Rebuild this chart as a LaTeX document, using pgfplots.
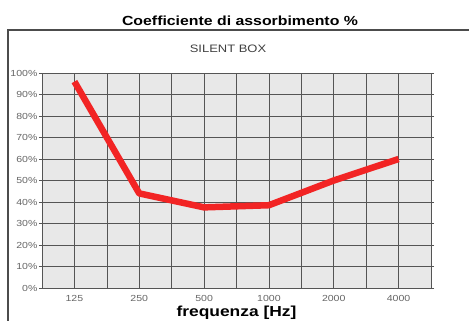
\documentclass[border=0pt]{standalone}
\usepackage{pgfplots}
\pgfplotsset{compat=1.18}
\usepackage{fontspec}
\setmainfont{Liberation Sans}
\newfontfamily\wide[FakeStretch=1.2]{Liberation Sans}
\definecolor{linered}{HTML}{F22424}
\definecolor{gridgray}{HTML}{555555}
\definecolor{bggray}{HTML}{E8E8E8}
\begin{document}
\begin{tikzpicture}
\useasboundingbox (0pt,0pt) rectangle (469pt,-321pt);
\fill[white] (0pt,0pt) rectangle (469pt,-321pt);
\draw[black!70, line width=1.2pt] (8pt,-330pt) -- (8pt,-30pt) -- (480pt,-30pt);
\node[font=\wide\bfseries\fontsize{13.2}{15}\selectfont] at (240pt,-21pt) {Coefficiente di assorbimento \%};
\node[font=\wide\fontsize{10.8}{12}\selectfont, text=black!75] at (228pt,-49pt) {SILENT BOX};
\begin{axis}[
  at={(42pt,-288pt)}, anchor=south west,
  scale only axis, width=389pt, height=215pt,
  xmin=-0.5, xmax=5.5, ymin=0, ymax=100,
  axis background/.style={fill=bggray},
  xtick={0,1,2,3,4,5},
  xticklabels={125,250,500,1000,2000,4000},
  minor xtick={0.5,1.5,2.5,3.5,4.5},
  ytick={0,10,20,30,40,50,60,70,80,90,100},
  yticklabels={0\%,10\%,20\%,30\%,40\%,50\%,60\%,70\%,80\%,90\%,100\%},
  grid=both,
  major grid style={gridgray, line width=0.6pt},
  minor grid style={gridgray, line width=0.6pt},
  axis line style={gridgray, line width=0.6pt},
  xtick style={draw=none},
  minor tick length=0pt,
  ytick style={gridgray, line width=0.6pt},
  major tick length=3pt,
  tick align=outside,
  ticklabel style={font=\wide\fontsize{8.8}{10}\selectfont, text=black!60},
  yticklabel style={xshift=2pt},
  xticklabel style={yshift=-1pt},
  xlabel={frequenza [Hz]},
  xlabel style={font=\wide\bfseries\fontsize{14.5}{16}\selectfont, at={(axis description cs:0.5,0)}, anchor=center, yshift=-25pt},
  clip=false,
]
\addplot[linered, line width=6.5pt, line join=round, line cap=butt] coordinates {
  (0,96) (1,44) (2,37.5) (3,38.5) (4,50) (5,60)
};
\end{axis}
\end{tikzpicture}
\end{document}
